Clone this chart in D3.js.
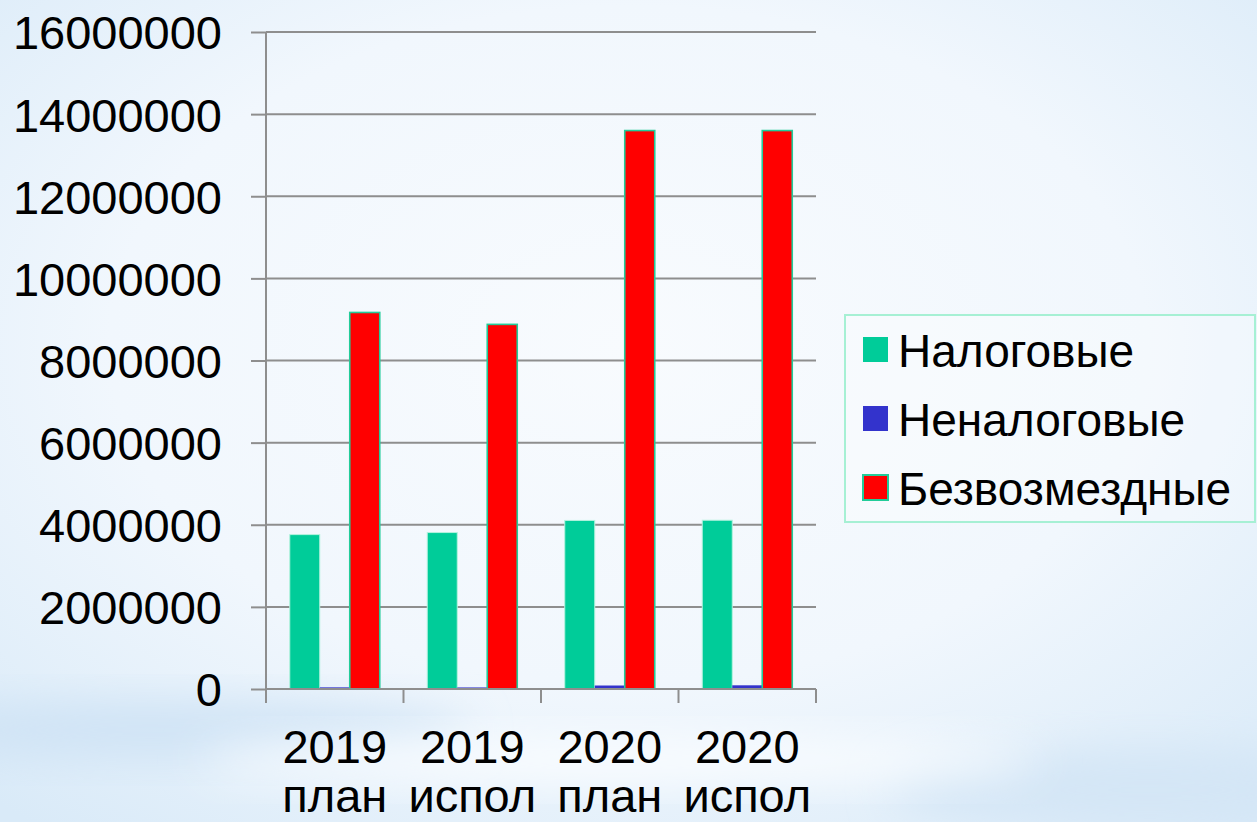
<!DOCTYPE html>
<html>
<head>
<meta charset="utf-8">
<script src="https://cdn.jsdelivr.net/npm/d3@7"></script>
<style>
  html, body { margin: 0; padding: 0; overflow: hidden; }
  body { width: 1257px; height: 822px; }
  text { font-family: 'Liberation Sans', Arial, sans-serif; fill: #000; }
</style>
</head>
<body>
<div id="chart"></div>
<script>
const categories = ['2019 план', '2019 испол', '2020 план', '2020 испол']
const seriesNames = ['Налоговые', 'Неналоговые', 'Безвозмездные']
const nalogovye = [3760000, 3810000, 4105000, 4110000]
const nenalogovye = [40000, 38000, 85000, 90000]
const bezvozmezdnye = [9170000, 8880000, 13600000, 13600000]
const yTicks = [0, 2000000, 4000000, 6000000, 8000000, 10000000, 12000000, 14000000, 16000000]

const fills = ['#00cc99', '#3333cc', '#ff0000']
const strokes = ['#b4f2de', 'none', '#22cc99']

const width = 1257
const height = 822
const plotLeft = 266
const plotRight = 816
const plotTop = 32
const plotBottom = 689

const svg = d3
  .select('#chart')
  .append('svg')
  .attr('width', width)
  .attr('height', height)

// background
const defs = svg.append('defs')
const bg = defs
  .append('radialGradient')
  .attr('id', 'bg')
  .attr('cx', '50%')
  .attr('cy', '42%')
  .attr('r', '75%')
bg.append('stop').attr('offset', '0%').attr('stop-color', '#f8fbfe')
bg.append('stop').attr('offset', '55%').attr('stop-color', '#f1f7fd')
bg.append('stop').attr('offset', '100%').attr('stop-color', '#d9eaf8')
const blur = defs.append('filter').attr('id', 'blur').attr('x', '-20%').attr('y', '-50%').attr('width', '140%').attr('height', '200%')
blur.append('feGaussianBlur').attr('stdDeviation', 22)

svg.append('rect').attr('width', width).attr('height', height).attr('fill', 'url(#bg)')
svg
  .append('ellipse')
  .attr('cx', 150)
  .attr('cy', 730)
  .attr('rx', 320)
  .attr('ry', 28)
  .attr('fill', '#cfe3f5')
  .attr('filter', 'url(#blur)')
svg
  .append('ellipse')
  .attr('cx', 1150)
  .attr('cy', 790)
  .attr('rx', 260)
  .attr('ry', 40)
  .attr('fill', '#d4e6f6')
  .attr('filter', 'url(#blur)')
svg
  .append('ellipse')
  .attr('cx', 620)
  .attr('cy', 760)
  .attr('rx', 420)
  .attr('ry', 22)
  .attr('fill', '#fafdff')
  .attr('filter', 'url(#blur)')

const x0 = d3.scaleBand().domain(categories).range([plotLeft, plotRight])
const pad = 23.75
const x1 = d3
  .scaleBand()
  .domain(seriesNames)
  .range([pad, x0.bandwidth() - pad])
const y = d3.scaleLinear().domain([0, 16000000]).range([plotBottom, plotTop])

// grid
svg
  .append('g')
  .selectAll('line')
  .data(yTicks)
  .enter()
  .append('line')
  .attr('x1', plotLeft)
  .attr('x2', plotRight)
  .attr('y1', (d) => y(d))
  .attr('y2', (d) => y(d))
  .attr('stroke', '#8e8e8e')
  .attr('stroke-width', 2)

// y axis
const yAxis = svg
  .append('g')
  .attr('transform', `translate(${plotLeft},0)`)
  .call(
    d3
      .axisLeft(y)
      .tickValues(yTicks)
      .tickFormat(d3.format('d'))
      .tickSize(15)
      .tickPadding(29)
  )
yAxis.select('.domain').attr('stroke', '#8e8e8e').attr('stroke-width', 2).attr('d', `M0,${plotTop}V${plotBottom}`)
yAxis.selectAll('.tick line').attr('stroke', '#8e8e8e').attr('stroke-width', 2)
yAxis
  .selectAll('.tick text')
  .style('font-size', '47px')
  .style('font-family', "'Liberation Sans', Arial, sans-serif")
  .attr('fill', '#000')
  .attr('dy', '0.36em')

// bars
const data = categories.map((c, i) => ({
  category: c,
  values: [nalogovye[i], nenalogovye[i], bezvozmezdnye[i]]
}))
const groups = svg
  .append('g')
  .selectAll('g')
  .data(data)
  .enter()
  .append('g')
  .attr('transform', (d) => `translate(${x0(d.category)},0)`)
groups
  .selectAll('rect')
  .data((d) => d.values.map((v, j) => ({ name: seriesNames[j], value: v, j })))
  .enter()
  .append('rect')
  .attr('x', (d) => x1(d.name))
  .attr('width', x1.bandwidth())
  .attr('y', (d) => y(d.value))
  .attr('height', (d) => plotBottom - y(d.value))
  .attr('fill', (d) => fills[d.j])
  .attr('stroke', (d) => strokes[d.j])
  .attr('stroke-width', (d) => (d.j === 2 ? 1.6 : 1))

// x axis
const xg = svg.append('g')
xg.append('line')
  .attr('x1', plotLeft)
  .attr('x2', plotRight)
  .attr('y1', plotBottom)
  .attr('y2', plotBottom)
  .attr('stroke', '#8e8e8e')
  .attr('stroke-width', 2)
const edges = categories.map((c) => x0(c)).concat([plotRight])
xg.selectAll('.xt')
  .data(edges)
  .enter()
  .append('line')
  .attr('class', 'xt')
  .attr('x1', (d) => d)
  .attr('x2', (d) => d)
  .attr('y1', plotBottom)
  .attr('y2', plotBottom + 14)
  .attr('stroke', '#8e8e8e')
  .attr('stroke-width', 2)
const xl = xg
  .selectAll('.xl')
  .data(categories)
  .enter()
  .append('text')
  .attr('class', 'xl')
  .attr('text-anchor', 'middle')
  .style('font-size', '47px')
xl.append('tspan')
  .attr('x', (d) => x0(d) + x0.bandwidth() / 2)
  .attr('y', 763)
  .text((d) => d.split(' ')[0])
xl.append('tspan')
  .attr('x', (d) => x0(d) + x0.bandwidth() / 2)
  .attr('y', 812)
  .text((d) => d.split(' ')[1])

// legend
const legend = svg.append('g')
legend
  .append('rect')
  .attr('x', 845)
  .attr('y', 315)
  .attr('width', 410)
  .attr('height', 207)
  .attr('fill', 'rgba(255,255,255,0.25)')
  .attr('stroke', '#a6f0d4')
  .attr('stroke-width', 2)
const items = legend
  .selectAll('.item')
  .data(seriesNames)
  .enter()
  .append('g')
  .attr('class', 'item')
  .attr('transform', (d, i) => `translate(0,${i * 69})`)
items
  .append('rect')
  .attr('x', 863)
  .attr('y', 337)
  .attr('width', 25)
  .attr('height', 25)
  .attr('fill', (d, i) => fills[i])
  .attr('stroke', (d, i) => (i === 2 ? '#22cc99' : 'none'))
  .attr('stroke-width', 2)
items
  .append('text')
  .attr('x', 898)
  .attr('y', 366.5)
  .style('font-size', '46px')
  .text((d) => d)
</script>
</body>
</html>
